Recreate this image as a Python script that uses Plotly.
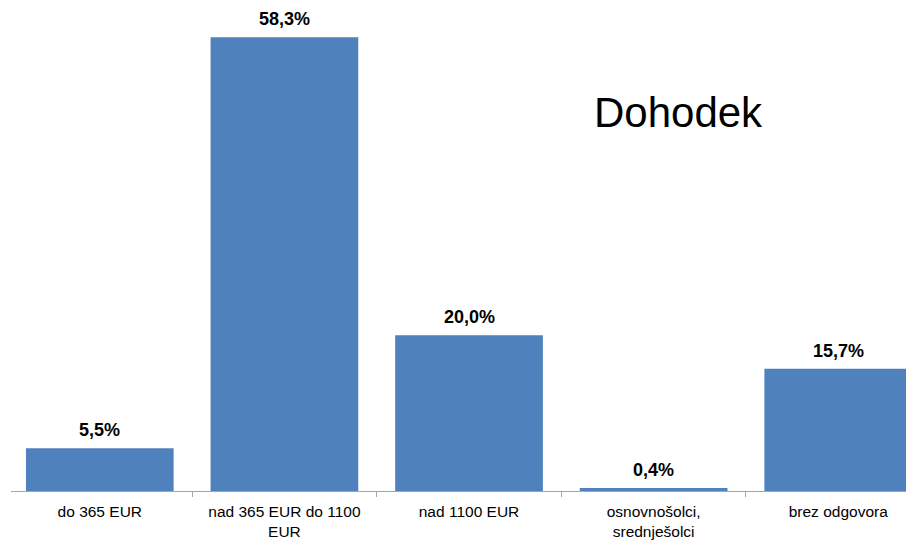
"""
Dohodek - bar chart of income groups.
"""
import plotly.graph_objects as go

categories = ["do 365 EUR", "nad 365 EUR do 1100<br>EUR", "nad 1100 EUR",
              "osnovnošolci,<br>srednješolci", "brez odgovora"]
values = [5.5, 58.3, 20.0, 0.4, 15.7]
value_labels = ["5,5%", "58,3%", "20,0%", "0,4%", "15,7%"]
title_text = "Dohodek"

BAR = "#4f81bd"
AXIS = "#a6a6a6"
FONT = "Liberation Sans, Arial, sans-serif"

fig = go.Figure()
fig.add_trace(go.Bar(x=categories, y=values, marker_color=BAR, marker_line_width=0))

# value labels above bars
for c, v, t in zip(categories, values, value_labels):
    fig.add_annotation(x=c, y=v, text="<b>%s</b>" % t, showarrow=False,
                       yanchor="bottom", yshift=6,
                       font=dict(family=FONT, size=18, color="black"))

fig.add_annotation(x=0.746, y=0.77, xref="paper", yref="paper", text=title_text,
                   showarrow=False, xanchor="center", yanchor="middle",
                   font=dict(family=FONT, size=42, color="black"))

fig.update_layout(
    width=906, height=543,
    margin=dict(l=11, r=0, t=0, b=52),
    paper_bgcolor="white", plot_bgcolor="white",
    bargap=0.2, showlegend=False,
    font=dict(family=FONT, size=15.5, color="black"),
)
# left edge starts just inside the first category so no boundary tick shows there
fig.update_xaxes(range=[-0.481, 4.367], showline=True, linecolor=AXIS, linewidth=1,
                 ticks="outside", tickson="boundaries", ticklen=5, tickcolor=AXIS,
                 showgrid=False, ticklabelstandoff=6, tickfont=dict(size=15.5),
                 automargin=False)
fig.update_yaxes(range=[0, 63.1], visible=False, showgrid=False, automargin=False)

# page has a default body margin; drop it so the figure fills the window
fig.write_html("out.html", config={"displayModeBar": False},
               post_script="document.body.style.margin='0';")
